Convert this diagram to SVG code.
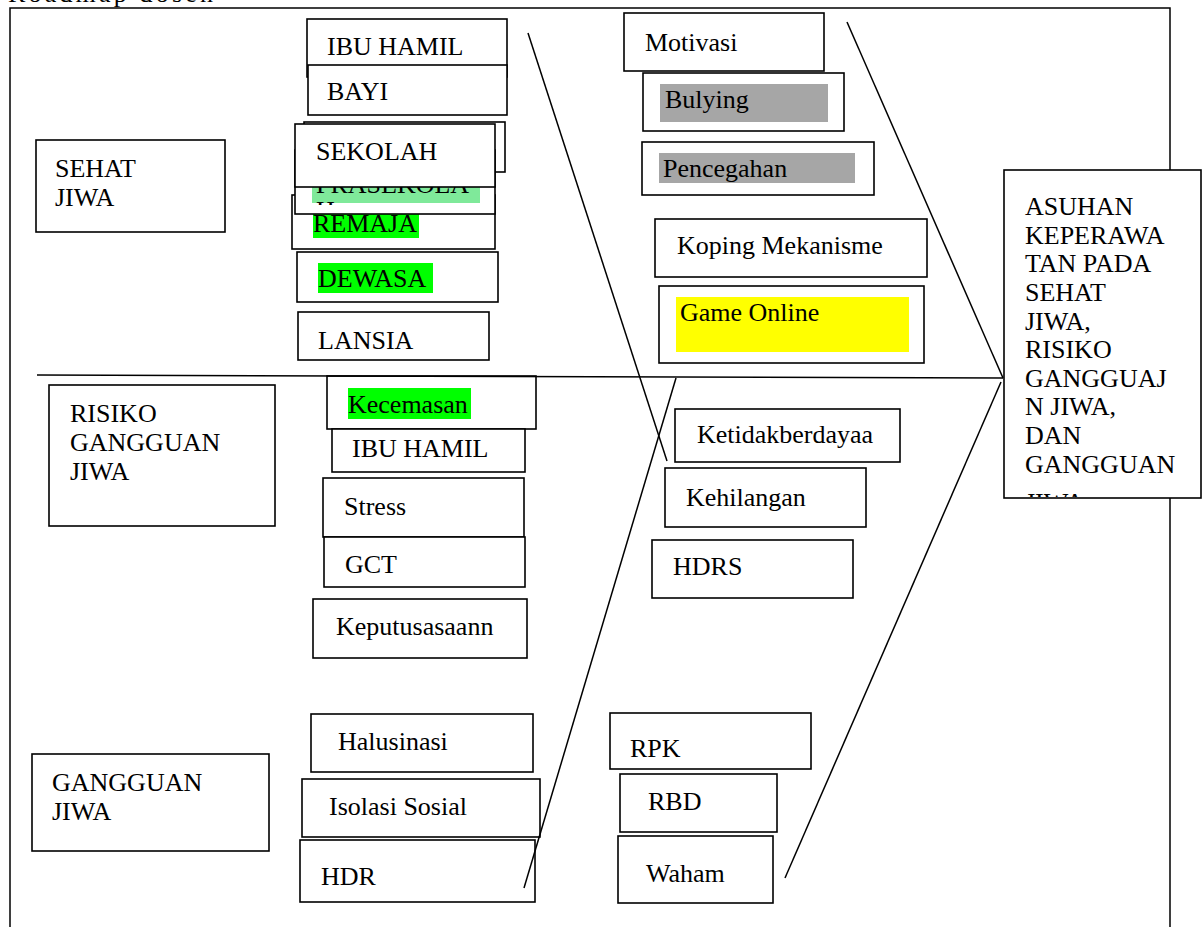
<svg xmlns="http://www.w3.org/2000/svg" width="1204" height="927" viewBox="0 0 1204 927">
<style>
.b{fill:#fff;stroke:#000;stroke-width:1.6}
.t{font-family:"Liberation Serif","Times New Roman",serif;font-size:26px;fill:#000}
.l{stroke:#000;stroke-width:1.5;fill:none}
.g{fill:#00ff00}
</style>
<defs>
<clipPath id="cpPra"><rect x="296" y="187" width="198" height="18"/></clipPath>
<clipPath id="cpAsu"><rect x="1005" y="171" width="195" height="326"/></clipPath>
</defs>
<rect width="1204" height="927" fill="#fff"/>
<text class="t" x="8" y="2" textLength="205" lengthAdjust="spacing">Roadmap dosen</text>
<g id="frame">
<path class="l" d="M10,927 V8 H1170 V927"/>
</g>

<g id="sehat-jiwa"><rect class="b" x="36" y="140" width="189" height="92"/><text class="t" x="55" y="177">SEHAT</text><text class="t" x="55" y="206">JIWA</text></g>
<g id="risiko"><rect class="b" x="49" y="385" width="226" height="141"/><text class="t" x="70" y="422">RISIKO</text><text class="t" x="70" y="451">GANGGUAN</text><text class="t" x="70" y="480">JIWA</text></g>
<g id="gangguan"><rect class="b" x="32" y="754" width="237" height="97"/><text class="t" x="52" y="791">GANGGUAN</text><text class="t" x="52" y="820">JIWA</text></g>

<g id="ibu-hamil-1"><rect class="b" x="307" y="19" width="200" height="58"/><text class="t" x="327" y="55">IBU HAMIL</text></g>
<g id="bayi"><rect class="b" x="308" y="65" width="199" height="50"/><text class="t" x="327" y="100">BAYI</text></g>
<g id="hidden-box"><rect class="b" x="304" y="122" width="201" height="50"/></g>
<g id="remaja"><rect class="b" x="292" y="195" width="203" height="54"/><rect class="g" x="313" y="207" width="106" height="31"/><text class="t" x="313" y="232">REMAJA</text></g>
<g id="prasekolah"><rect class="b" x="295" y="150" width="200" height="64"/><rect x="312" y="170" width="168" height="33" fill="#7fe99a"/><g clip-path="url(#cpPra)"><text class="t" x="316" y="193">PRASEKOLA</text><text class="t" x="316" y="219">H</text></g></g>
<g id="sekolah"><rect class="b" x="295" y="124" width="200" height="63"/><text class="t" x="316" y="160">SEKOLAH</text></g>
<g id="dewasa"><rect class="b" x="297" y="252" width="201" height="50"/><rect class="g" x="318" y="263" width="115" height="30"/><text class="t" x="318" y="287">DEWASA</text></g>
<g id="lansia"><rect class="b" x="298" y="312" width="191" height="48"/><text class="t" x="318" y="349">LANSIA</text></g>

<g id="kecemasan"><rect class="b" x="327" y="376" width="209" height="53"/><rect class="g" x="348" y="388" width="123" height="31"/><text class="t" x="348" y="413">Kecemasan</text></g>
<g id="ibu-hamil-2"><rect class="b" x="332" y="429" width="193" height="43"/><text class="t" x="352" y="457">IBU HAMIL</text></g>
<g id="stress"><rect class="b" x="323" y="478" width="201" height="59"/><text class="t" x="344" y="515">Stress</text></g>
<g id="gct"><rect class="b" x="324" y="537" width="201" height="50"/><text class="t" x="345" y="573">GCT</text></g>
<g id="keputusasaan"><rect class="b" x="313" y="599" width="214" height="59"/><text class="t" x="336" y="635">Keputusasaann</text></g>

<g id="halusinasi"><rect class="b" x="311" y="714" width="222" height="58"/><text class="t" x="338" y="750">Halusinasi</text></g>
<g id="isolasi"><rect class="b" x="302" y="779" width="238" height="58"/><text class="t" x="329" y="815">Isolasi Sosial</text></g>
<g id="hdr"><rect class="b" x="300" y="840" width="235" height="62"/><text class="t" x="321" y="885">HDR</text></g>
<g id="rpk"><rect class="b" x="610" y="713" width="201" height="56"/><text class="t" x="630" y="757">RPK</text></g>
<g id="rbd"><rect class="b" x="620" y="774" width="157" height="58"/><text class="t" x="648" y="810">RBD</text></g>
<g id="waham"><rect class="b" x="618" y="836" width="155" height="67"/><text class="t" x="646" y="882">Waham</text></g>

<g id="motivasi"><rect class="b" x="624" y="13" width="200" height="58"/><text class="t" x="645" y="51">Motivasi</text></g>
<g id="bulying"><rect class="b" x="643" y="73" width="201" height="58"/><rect x="660" y="84" width="168" height="38" fill="#a6a6a6"/><text class="t" x="665" y="108">Bulying</text></g>
<g id="pencegahan"><rect class="b" x="642" y="142" width="232" height="53"/><rect x="659" y="153" width="196" height="30" fill="#a6a6a6"/><text class="t" x="663" y="177">Pencegahan</text></g>
<g id="koping"><rect class="b" x="655" y="219" width="272" height="58"/><text class="t" x="677" y="254">Koping Mekanisme</text></g>
<g id="game-online"><rect class="b" x="659" y="286" width="265" height="77"/><rect x="676" y="297" width="233" height="55" fill="#ffff00"/><text class="t" x="680" y="321">Game Online</text></g>
<g id="ketidakberdayaan"><rect class="b" x="675" y="409" width="225" height="53"/><text class="t" x="697" y="443">Ketidakberdayaa</text></g>
<g id="kehilangan"><rect class="b" x="665" y="468" width="201" height="59"/><text class="t" x="686" y="506">Kehilangan</text></g>
<g id="hdrs"><rect class="b" x="652" y="540" width="201" height="58"/><text class="t" x="673" y="575">HDRS</text></g>

<g id="connectors">
<line class="l" x1="37" y1="375" x2="1003" y2="378"/>
<line class="l" x1="528" y1="33" x2="667" y2="461"/>
<line class="l" x1="676" y1="378" x2="524" y2="888"/>
<line class="l" x1="847" y1="22" x2="1003" y2="378"/>
<line class="l" x1="1001" y1="382" x2="785" y2="878"/>
</g>

<g id="asuhan"><rect class="b" x="1004" y="170" width="197" height="328"/>
<g clip-path="url(#cpAsu)">
<text class="t" x="1025" y="215">ASUHAN</text>
<text class="t" x="1025" y="244">KEPERAWA</text>
<text class="t" x="1025" y="272">TAN PADA</text>
<text class="t" x="1025" y="301">SEHAT</text>
<text class="t" x="1025" y="330">JIWA,</text>
<text class="t" x="1025" y="358">RISIKO</text>
<text class="t" x="1025" y="387">GANGGUAJ</text>
<text class="t" x="1025" y="415">N JIWA,</text>
<text class="t" x="1025" y="444">DAN</text>
<text class="t" x="1025" y="473">GANGGUAN</text>
<text class="t" x="1025" y="511">JIWA</text>
</g></g>
</svg>
